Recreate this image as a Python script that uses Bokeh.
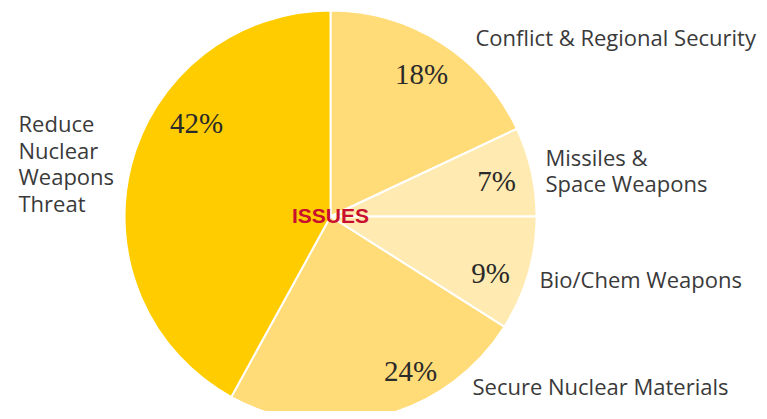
from bokeh.plotting import figure
from bokeh.models import Range1d, ColumnDataSource
from bokeh.core.properties import value
from bokeh.embed import file_html
from bokeh.resources import INLINE
import math

# Data (clockwise from top)
categories = ["Conflict & Regional Security", "Missiles & Space Weapons", "Bio/Chem Weapons",
              "Secure Nuclear Materials", "Reduce Nuclear Weapons Threat"]
shares = [18, 7, 9, 24, 42]
pct_labels = ["18%", "7%", "9%", "24%", "42%"]
colors = ["#FFDC78", "#FFEAB2", "#FFEAB2", "#FFDC78", "#FFCC00"]

W, H = 759, 411
p = figure(width=W, height=H, output_backend="svg", toolbar_location=None,
           x_range=Range1d(0, W), y_range=Range1d(0, H), min_border=0)
p.axis.visible = False
p.grid.visible = False
p.outline_line_color = None
p.background_fill_color = "white"
p.border_fill_color = "white"

def Y(py):
    return H - py

cx, cy, r = 330, Y(216), 206

cum = [0]
for s in shares:
    cum.append(cum[-1] + s)
starts = [math.radians(90 - cum[i + 1] * 3.6) for i in range(len(shares))]
ends = [math.radians(90 - cum[i] * 3.6) for i in range(len(shares))]

src = ColumnDataSource(dict(start=starts, end=ends, color=colors))
p.wedge(x=cx, y=cy, radius=r, start_angle="start", end_angle="end",
        direction="anticlock", fill_color="color", line_color="white", line_width=2,
        source=src)

# percentage labels (serif)
pct_x = [421, 496, 490, 410, 196]
pct_y = [Y(73), Y(180), Y(272), Y(370), Y(122)]
p.text(x=pct_x, y=pct_y, text=pct_labels, text_font=value("Liberation Serif"),
       text_font_size="29px", text_color="#2a2a2a", text_align="center",
       text_baseline="middle")

# category labels
lab_text = ["Conflict  & Regional Security", "Missiles &", "Space Weapons", "Bio/Chem Weapons",
            "Secure Nuclear Materials", "Reduce", "Nuclear", "Weapons", "Threat"]
lab_x = [475, 545, 545, 539, 472, 18, 18, 18, 18]
lab_y = [Y(36), Y(156), Y(182), Y(278), Y(385), Y(122), Y(149), Y(175), Y(202)]
p.text(x=lab_x, y=lab_y, text=lab_text, text_font=value("Open Sans"),
       text_font_size="22px", text_color="#3a3a3a", text_align="left",
       text_baseline="middle")

p.text(x=[cx], y=[Y(215)], text=["ISSUES"], text_font=value("Liberation Sans"),
       text_font_style="bold", text_font_size="21px", text_color="#C8102E",
       text_align="center", text_baseline="middle")

open("out.html", "w").write(file_html(p, INLINE))
